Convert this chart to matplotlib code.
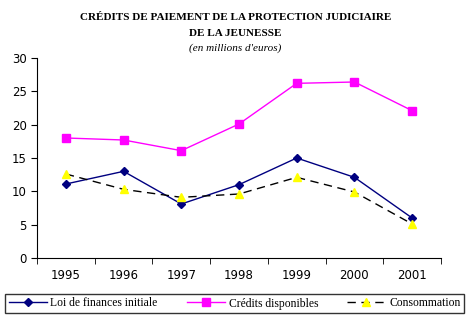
import matplotlib
matplotlib.use('Agg')
import matplotlib.pyplot as plt
import numpy as np

# data
years = ['1995', '1996', '1997', '1998', '1999', '2000', '2001']
loi_finances = [11.1, 13.0, 8.1, 11.0, 15.0, 12.1, 6.0]
credits_dispo = [18.0, 17.7, 16.1, 20.1, 26.2, 26.4, 22.1]
consommation = [12.6, 10.3, 9.1, 9.6, 12.1, 9.9, 5.1]

plt.rcParams['font.family'] = ['Liberation Serif', 'DejaVu Serif']

fig = plt.figure(figsize=(4.71, 3.21), dpi=100)
ax = fig.add_axes([37 / 471, 63 / 321, 404 / 471, 200 / 321])

x = np.arange(len(years))
ax.plot(x, loi_finances, color='#000080', lw=1, marker='D', ms=4.5,
        label='Loi de finances initiale')
ax.plot(x, credits_dispo, color='#ff00ff', lw=1, marker='s', ms=5.5,
        label='Crédits disponibles')
ax.plot(x, consommation, color='black', lw=1, ls=(0, (6, 4)), marker='^', ms=6,
        markerfacecolor='#ffff00', markeredgecolor='#ffff00',
        label='Consommation')

ax.set_xlim(-0.5, len(years) - 0.5)
ax.set_ylim(0, 30)
ax.set_yticks(range(0, 31, 5))
ax.set_xticks(x)
ax.set_xticklabels(years)
ax.set_xticks(np.arange(-0.5, len(years), 1), minor=True)
ax.tick_params(axis='x', which='major', length=0, pad=8, labelsize=8.5)
ax.tick_params(axis='x', which='minor', length=4, direction='out')
ax.tick_params(axis='y', length=4, direction='out', labelsize=8.5)
for lab in ax.get_xticklabels() + ax.get_yticklabels():
    lab.set_family('DejaVu Sans')
ax.spines['top'].set_visible(False)
ax.spines['right'].set_visible(False)

fig.text(0.5, 1 - 17 / 321, 'CRÉDITS DE PAIEMENT DE LA PROTECTION JUDICIAIRE',
         ha='center', va='center', fontsize=8, fontweight='bold')
fig.text(0.5, 1 - 33 / 321, 'DE LA JEUNESSE',
         ha='center', va='center', fontsize=8, fontweight='bold')
fig.text(0.5, 1 - 48 / 321, "(en millions d'euros)",
         ha='center', va='center', fontsize=8, style='italic')

leg = fig.legend(loc='lower left', bbox_to_anchor=(5 / 471, 8 / 321, 459 / 471, 20 / 321),
                 mode='expand', ncol=3, fontsize=8.4, frameon=True, fancybox=False,
                 edgecolor='black', handlelength=3.3, handletextpad=0.3,
                 columnspacing=1.5, borderpad=0.3, borderaxespad=0)
leg.get_frame().set_linewidth(1)

fig.savefig('out.png', dpi=100)
